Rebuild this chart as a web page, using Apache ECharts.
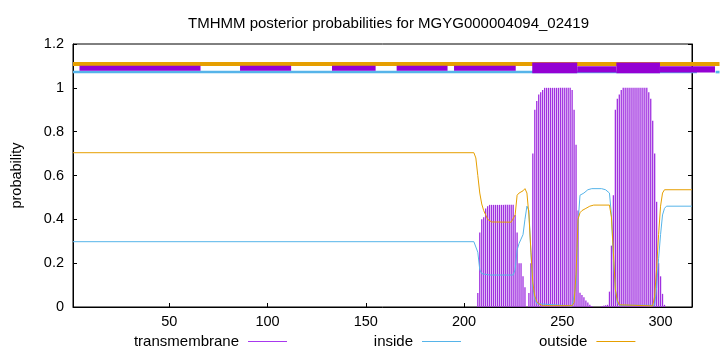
<!DOCTYPE html>
<html>
<head>
<meta charset="utf-8">
<script src="https://cdn.jsdelivr.net/npm/echarts@6/dist/echarts.min.js"></script>
<style>
html,body{margin:0;padding:0;background:#fff;}
#chart{width:720px;height:352px;}
</style>
</head>
<body>
<div id="chart"></div>
<script>
// ---------------- data ----------------
const chartTitle = 'TMHMM posterior probabilities for MGYG000004094_02419';
const seriesNames = ['transmembrane', 'inside', 'outside'];
const xTickValues = [50, 100, 150, 200, 250, 300];

// transmembrane posterior (impulses), residues with non-zero probability
const tmResidues = [207,208,209,210,211,212,213,214,215,216,217,218,219,220,221,222,223,224,225,
  226,227,228,229,230,231,232,233,234,235,236,237,238,239,240,
  241,242,243,244,245,246,247,248,249,250,251,252,253,254,
  255,256,257,258,259,260,261,262,263,264,265,266,267,268,269,270,271,272,273,
  274,275,276,277,278,279,280,281,282,283,284,285,286,287,288,289,290,291,292,293,
  294,295,296,297,298,299,300,301,302];
const tmProb = [0.064,0.34,0.40,0.41,0.45,0.46,0.466,0.466,0.466,0.466,0.466,0.466,0.466,0.466,0.466,0.466,0.466,0.466,0.466,
  0.42,0.34,0.20,0.20,0.14,0.09,0.0,0.064,0.20,0.70,0.90,0.94,0.97,0.98,0.99,
  1.0,1.0,1.0,1.0,1.0,1.0,1.0,1.0,1.0,1.0,1.0,1.0,1.0,1.0,
  0.99,0.90,0.74,0.44,0.065,0.055,0.045,0.03,0.02,0.01,0.005,0,0,0,0,0.004,0.006,0.008,0.01,
  0.07,0.28,0.51,0.90,0.95,0.97,0.99,1.0,1.0,1.0,1.0,1.0,1.0,1.0,1.0,1.0,1.0,1.0,1.0,1.0,
  0.98,0.95,0.85,0.70,0.48,0.20,0.14,0.06,0.01];

// inside posterior (line)
const insideX = [1,205,206,207,208,209,210,213,225,226,227,228,229,230,231,232,233,234,235,236,237,238,255,256,257,258,259,261,263,265,270,272,273,274,275,276,277,278,279,297,298,299,300,301,302,303,316];
const insideY = [0.298,0.298,0.29,0.25,0.17,0.152,0.148,0.146,0.146,0.17,0.26,0.29,0.31,0.33,0.40,0.46,0.44,0.25,0.09,0.035,0.015,0.008,0.005,0.01,0.10,0.38,0.51,0.52,0.535,0.54,0.54,0.535,0.53,0.52,0.42,0.22,0.08,0.02,0.008,0.008,0.09,0.22,0.33,0.42,0.45,0.46,0.46];

// outside posterior (line)
const outsideX = [1,205,206,207,208,209,210,211,212,213,214,224,225,226,227,228,229,230,231,232,233,234,235,236,237,238,239,240,255,256,257,258,259,260,262,264,266,274,275,276,277,278,279,280,296,297,298,299,300,301,302,316];
const outsideY = [0.704,0.704,0.68,0.60,0.52,0.47,0.44,0.42,0.40,0.392,0.388,0.387,0.39,0.42,0.51,0.52,0.525,0.53,0.54,0.52,0.42,0.26,0.11,0.05,0.025,0.015,0.01,0.006,0.006,0.02,0.15,0.40,0.43,0.44,0.45,0.46,0.465,0.465,0.41,0.25,0.08,0.03,0.01,0.005,0.005,0.05,0.18,0.33,0.46,0.52,0.535,0.535];

// predicted topology strip at the top (residue spans)
const topOutsideSpans = [[1, 330]];
const topInsideSpans = [[1, 318.5], [328, 330]];
const topTmThinSpans = [[4.3, 65.9], [86, 112], [132.8, 155], [165.7, 191.6], [194.9, 226.3]];
const topTmWideSpans = [[257.6, 277.5], [299.7, 327.7]];
const topTmTallSpans = [[234.7, 257.6], [277.5, 299.7]];

// ---------------- chart ----------------
const FONT = 'Liberation Sans';
const FS = 14.5;
const FS_BIG = 15;
const cPurple = '#9400d3';
const cImpulse = '#a030e0';
const cBlue = '#56b4e9';
const cOrange = '#e69f00';

function band(yLo, yHi, color) {
  return function (params, api) {
    const p1 = api.coord([api.value(0), yHi]);
    const p2 = api.coord([api.value(1), yLo]);
    return {
      type: 'rect',
      shape: { x: p1[0], y: p1[1], width: p2[0] - p1[0], height: p2[1] - p1[1] },
      style: { fill: color }
    };
  };
}
function bandSeries(data, yLo, yHi, color) {
  return {
    type: 'custom', clip: false, silent: true, z: 5,
    renderItem: band(yLo, yHi, color),
    encode: { x: [0, 1] },
    data: data
  };
}
function legendFor(name, color, right) {
  return {
    data: [{ name: name, itemStyle: { color: color } }],
    right: right, top: 334, padding: 0,
    align: 'right', icon: 'rect', itemWidth: 39, itemHeight: 1,
    selectedMode: false,
    textStyle: { fontFamily: FONT, fontSize: FS_BIG, color: '#000', padding: [0, 4, 0, 0] }
  };
}

const chart = echarts.init(document.getElementById('chart'), null, { renderer: 'canvas' });
chart.setOption({
  animation: false,
  backgroundColor: '#fff',
  title: {
    text: chartTitle, left: 183, top: 11,
    textStyle: { fontFamily: FONT, fontSize: FS_BIG, fontWeight: 'normal', color: '#000' }
  },
  grid: { left: 73, right: 28, top: 44, bottom: 45, show: true, borderColor: '#000', borderWidth: 1 },
  legend: [
    legendFor(seriesNames[0], '#a838ee', 433),
    legendFor(seriesNames[1], cBlue, 259),
    legendFor(seriesNames[2], cOrange, 84.6)
  ],
  xAxis: {
    type: 'value', min: 1, max: 316,
    axisLine: { show: true, onZero: false, lineStyle: { color: '#000', width: 1 } },
    axisTick: { show: true, inside: true, length: 4, customValues: xTickValues, lineStyle: { color: '#000' } },
    axisLabel: { customValues: xTickValues, margin: 7, fontFamily: FONT, fontSize: FS, color: '#000' },
    splitLine: { show: false }
  },
  yAxis: [{
    type: 'value', min: 0, max: 1.2, interval: 0.2,
    name: 'probability', nameLocation: 'middle', nameGap: 49,
    nameTextStyle: { fontFamily: FONT, fontSize: FS, color: '#000' },
    axisLine: { show: true, lineStyle: { color: '#000', width: 1 } },
    axisTick: { show: true, inside: true, length: 4, lineStyle: { color: '#000' } },
    axisLabel: { margin: 9, fontFamily: FONT, fontSize: FS, color: '#000' },
    splitLine: { show: false }
  }, {
    type: 'value', min: 0, max: 1.2, interval: 0.2, position: 'right',
    axisLine: { show: true, lineStyle: { color: '#000', width: 1 } },
    axisTick: { show: true, inside: true, length: 4, lineStyle: { color: '#000' } },
    axisLabel: { show: false },
    splitLine: { show: false }
  }],
  series: [
    {
      name: seriesNames[0], type: 'bar', barWidth: 1.3,
      itemStyle: { color: cImpulse },
      data: tmResidues.map((x, i) => [x, tmProb[i]]),
      z: 2
    },
    {
      name: seriesNames[1], type: 'line', showSymbol: false, symbol: 'none',
      lineStyle: { color: cBlue, width: 1 }, itemStyle: { color: cBlue },
      data: insideX.map((x, i) => [x, insideY[i]]),
      z: 3
    },
    {
      name: seriesNames[2], type: 'line', showSymbol: false, symbol: 'none',
      lineStyle: { color: cOrange, width: 1 }, itemStyle: { color: cOrange },
      data: outsideX.map((x, i) => [x, outsideY[i]]),
      z: 3
    },
    bandSeries(topOutsideSpans, 1.10, 1.118, cOrange),
    bandSeries(topInsideSpans, 1.066, 1.078, cBlue),
    bandSeries(topTmThinSpans, 1.078, 1.101, cPurple),
    bandSeries(topTmWideSpans, 1.07, 1.099, cPurple),
    bandSeries(topTmTallSpans, 1.066, 1.116, cPurple)
  ]
});
</script>
</body>
</html>
